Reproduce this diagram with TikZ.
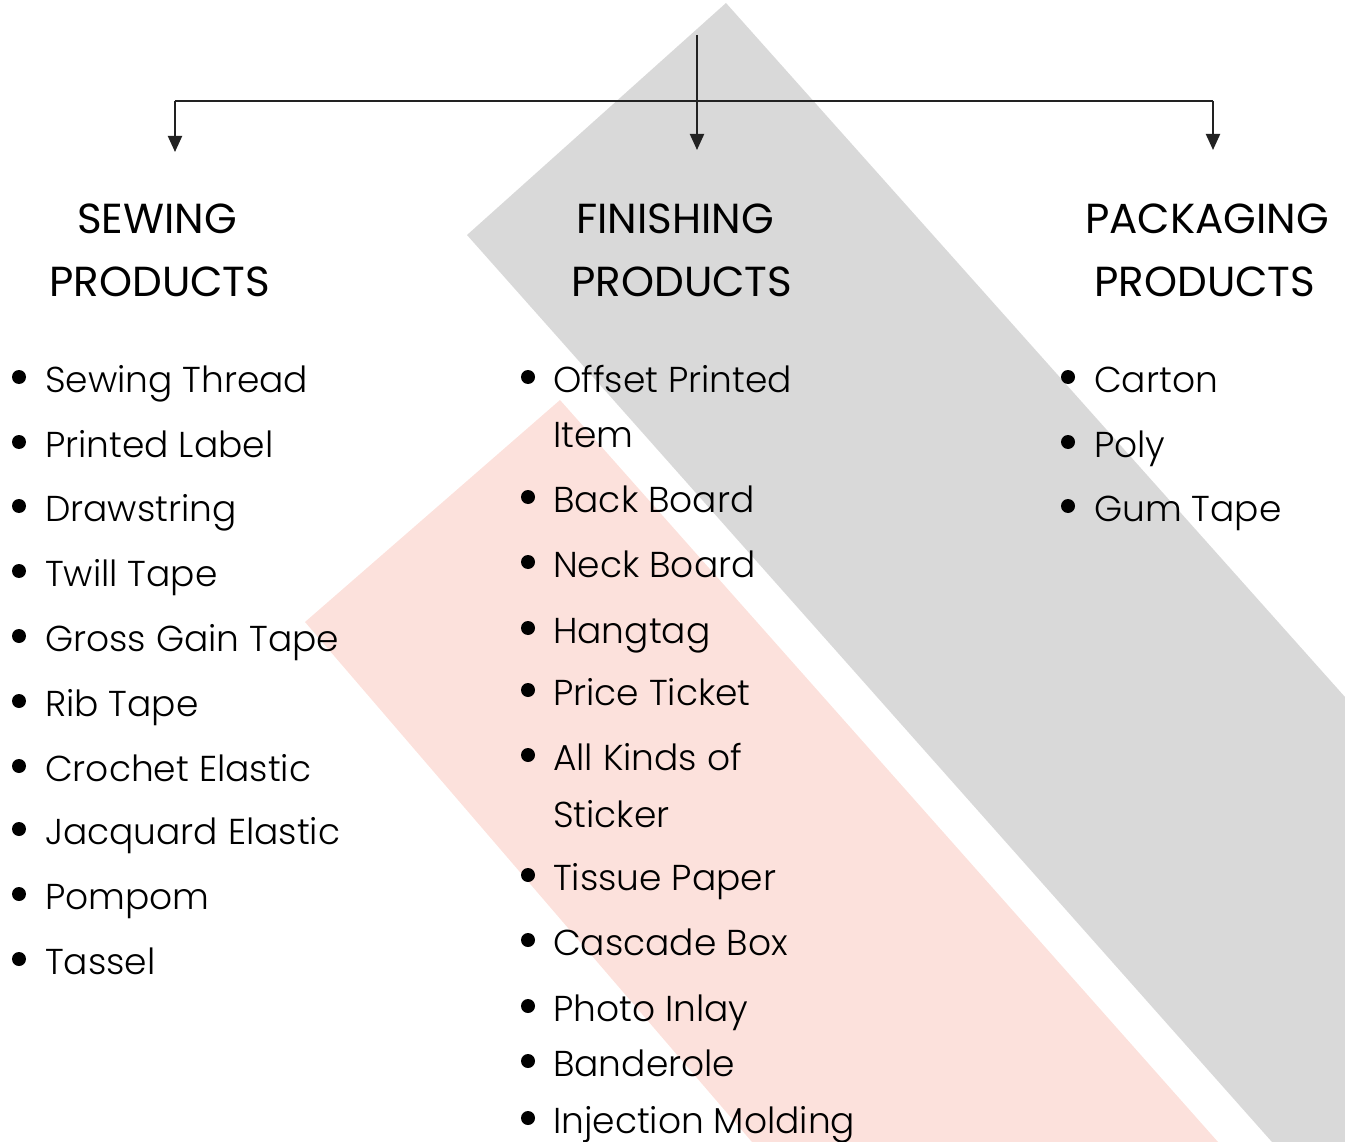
\documentclass[tikz,border=0pt]{standalone}
\usepackage{fontspec}
\usetikzlibrary{arrows.meta}
\newfontfamily\headfam{Poppins}
\newfontfamily\itemfam{Poppins Light}
\definecolor{bandgray}{HTML}{D9D9D9}
\definecolor{bandpink}{HTML}{FCE1DC}
\definecolor{linegray}{HTML}{222222}
\begin{document}
\begin{tikzpicture}[x=1pt,y=-1pt,
  head/.style={font=\headfam\fontsize{42}{50}\selectfont, anchor=base, inner sep=0pt},
  item/.style={font=\itemfam\fontsize{36}{44}\selectfont, anchor=base west, inner sep=0pt},
  bul/.style={circle, fill=black, inner sep=0pt, minimum size=14pt},
  conn/.style={draw=linegray, line width=2pt},
  arr/.style={conn, -{Triangle[width=14pt,length=16pt]}}]
\useasboundingbox (0,0) rectangle (1345,1142);
% background bands
\fill[bandgray] (726,3) -- (467,235) -- (1272,1142) -- (1345,1142) -- (1345,697) -- cycle;
\fill[bandpink] (560,400) -- (305,622) -- (752,1142) -- (1218,1142) -- cycle;
% connectors
\coordinate (top) at (697,35);
\coordinate (hl) at (175,101);
\coordinate (hr) at (1213,101);
\coordinate (tipl) at (175,152);
\coordinate (tipm) at (697,150);
\coordinate (tipr) at (1213,150);
\draw[conn] (hl) -- (hr);
\draw[arr] (top) -- (tipm);
\draw[arr] (hl) -- (tipl);
\draw[arr] (hr) -- (tipr);
% headings
\node[head] (s1) at (157,234) {SEWING};
\node[head] (s2) at (160,297) {PRODUCTS};
\node[head] (f1) at (675,234) {FINISHING};
\node[head] (f2) at (682,297) {PRODUCTS};
\node[head] (p1) at (1207,234) {PACKAGING};
\node[head] (p2) at (1205,297) {PRODUCTS};
% sewing items
\foreach \t/\y [count=\i] in {Sewing Thread/392, Printed Label/457, Drawstring/521, Twill Tape/586, Gross Gain Tape/651, Rib Tape/716, Crochet Elastic/781, Jacquard Elastic/844, Pompom/909, Tassel/974}{
  \node[bul] (sb\i) at (19,\y-15) {};
  \node[item] (si\i) at (45,\y) {\t};
}
% finishing items
\foreach \t/\y [count=\i] in {Offset Printed/392, Back Board/512, Neck Board/577, Hangtag/643, Price Ticket/705, All Kinds of/770, Tissue Paper/890, Cascade Box/955, Photo Inlay/1021, Banderole/1076, Injection Molding/1133}{
  \node[bul] (fb\i) at (528,\y-15) {};
  \node[item] (fi\i) at (553,\y) {\t};
}
\node[item] (fc1) at (553,447) {Item};
\node[item] (fc2) at (553,827) {Sticker};
% packaging items
\foreach \t/\y [count=\i] in {Carton/392, Poly/457, Gum Tape/521}{
  \node[bul] (pb\i) at (1068,\y-15) {};
  \node[item] (pi\i) at (1094,\y) {\t};
}
\end{tikzpicture}
\end{document}
